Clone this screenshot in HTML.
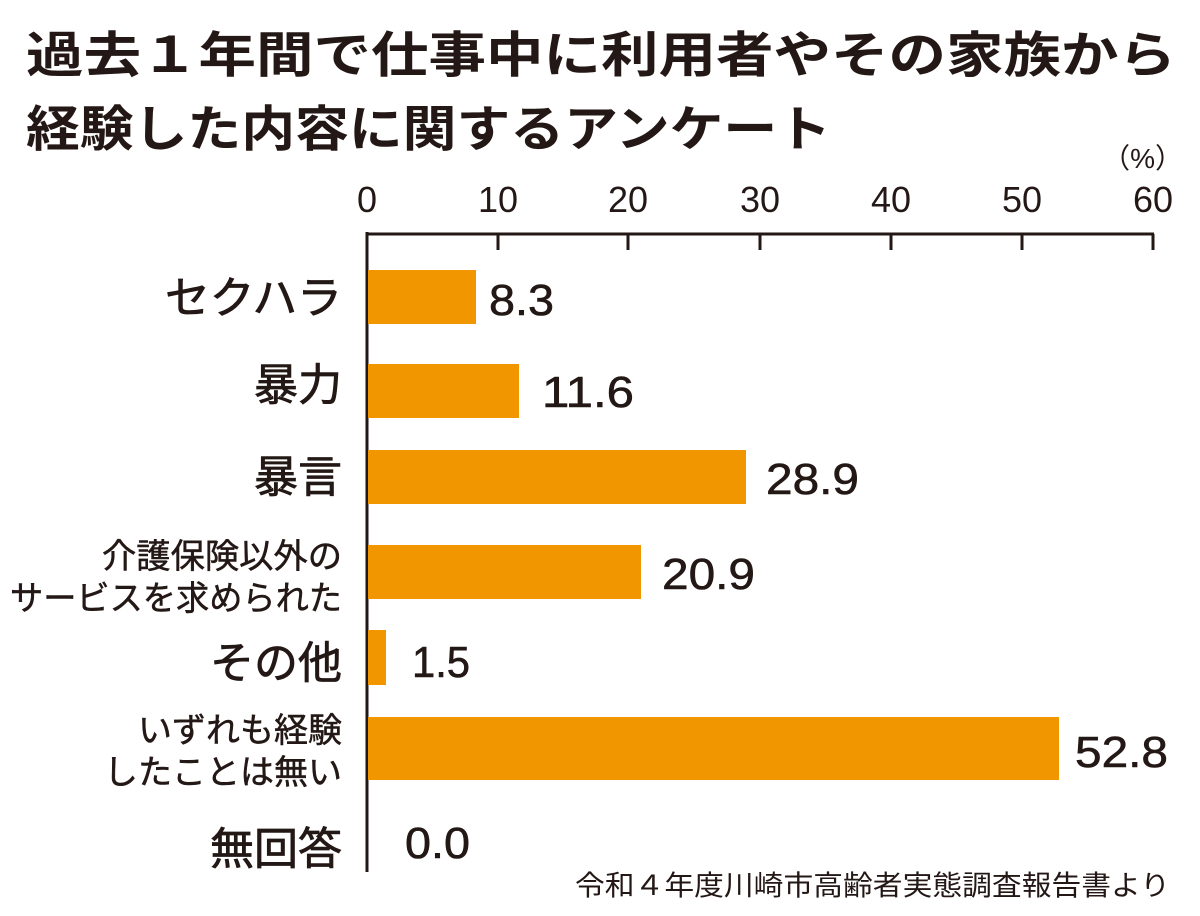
<!DOCTYPE html>
<html><head><meta charset="utf-8"><style>
html,body{margin:0;padding:0;background:#fff;}
svg{display:block}
text{font-family:"Liberation Sans","Noto Sans CJK JP",sans-serif;fill:#231815}
</style></head><body>
<svg width="1200" height="916" viewBox="0 0 1200 916" xmlns="http://www.w3.org/2000/svg">
<text x="26" y="72" font-size="49" font-weight="bold" textLength="1150" lengthAdjust="spacingAndGlyphs">過去１年間で仕事中に利用者やその家族から</text>
<text x="26" y="146" font-size="49" font-weight="bold" textLength="805" lengthAdjust="spacingAndGlyphs">経験した内容に関するアンケート</text>
<text x="1183" y="168" font-size="28" text-anchor="end">（%）</text>
<g font-size="36" text-anchor="middle">
<text x="367" y="212">0</text><text x="498" y="212">10</text><text x="628" y="212">20</text>
<text x="760" y="212">30</text><text x="891" y="212">40</text><text x="1022" y="212">50</text><text x="1153" y="212">60</text>
</g>
<g stroke="#231815" stroke-width="3" fill="none">
<path d="M367 234 H1154 M367 232 V872"/>
<path d="M498 234 V250 M628 234 V250 M760 234 V250 M891 234 V250 M1022 234 V250 M1153 234 V250"/>
</g>
<g fill="#f29600">
<rect x="368" y="270" width="108" height="54"/>
<rect x="368" y="364" width="151" height="54"/>
<rect x="368" y="450" width="378" height="54"/>
<rect x="368" y="545" width="273" height="54"/>
<rect x="368" y="630" width="18" height="55"/>
<rect x="368" y="717" width="691" height="63"/>
</g>
<g font-size="44" text-anchor="end" stroke="#231815" stroke-width="0.8">
<text x="342" y="313" textLength="177" lengthAdjust="spacingAndGlyphs">セクハラ</text>
<text x="342" y="400">暴力</text>
<text x="342" y="492">暴言</text>
<text x="342" y="678">その他</text>
<text x="342" y="864">無回答</text>
</g>
<g font-size="34" text-anchor="end" stroke="#231815" stroke-width="0.5">
<text x="342" y="568" textLength="240" lengthAdjust="spacingAndGlyphs">介護保険以外の</text>
<text x="342" y="610" textLength="332" lengthAdjust="spacingAndGlyphs">サービスを求められた</text>
<text x="342" y="742">いずれも経験</text>
<text x="342" y="784">したことは無い</text>
</g>
<g font-size="44" stroke="#231815" stroke-width="0.6">
<text x="489" y="315" textLength="65" lengthAdjust="spacingAndGlyphs">8.3</text>
<text x="542" y="407" textLength="92" lengthAdjust="spacingAndGlyphs">11.6</text>
<text x="766" y="494" textLength="93" lengthAdjust="spacingAndGlyphs">28.9</text>
<text x="662" y="589" textLength="93" lengthAdjust="spacingAndGlyphs">20.9</text>
<text x="412" y="677" textLength="58" lengthAdjust="spacingAndGlyphs">1.5</text>
<text x="1075" y="767" textLength="93" lengthAdjust="spacingAndGlyphs">52.8</text>
<text x="405" y="858" textLength="65" lengthAdjust="spacingAndGlyphs">0.0</text>
</g>
<text x="1170" y="895" font-size="28" text-anchor="end" textLength="595" lengthAdjust="spacingAndGlyphs">令和４年度川崎市高齢者実態調査報告書より</text>
</svg>
</body></html>
